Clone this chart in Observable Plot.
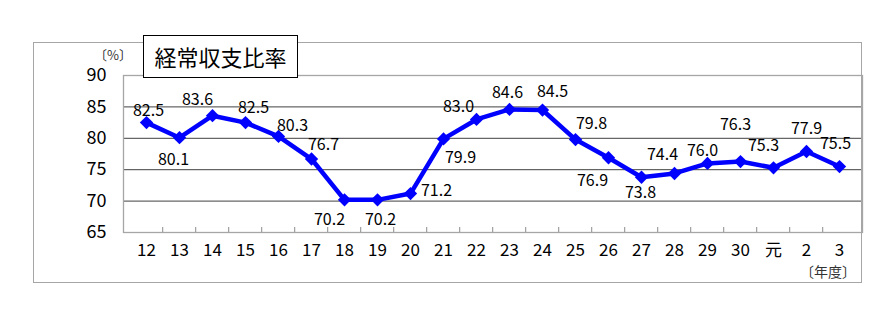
<!DOCTYPE html>
<html><head><meta charset="utf-8">
<script src="https://cdn.jsdelivr.net/npm/d3@7"></script>
<script src="https://cdn.jsdelivr.net/npm/@observablehq/plot@0.6"></script>
<style>
body{margin:0;background:#fff;font-family:"Noto Sans CJK JP","Noto Sans",sans-serif;}
#wrap{position:relative;width:883px;height:318px;overflow:hidden;}
#chart{position:absolute;left:0;top:0;}
#frame{position:absolute;left:33px;top:42px;width:829px;height:241px;box-sizing:border-box;border:1.5px solid #a6a6a6;pointer-events:none;}
#title{position:absolute;left:143px;top:35px;width:155px;height:43px;box-sizing:border-box;border:1.5px solid #000;background:#fff;font-size:22px;line-height:40px;text-align:center;color:#000;}
#unit{position:absolute;left:94px;top:47px;font-size:13px;line-height:15px;color:#333;}
#xunit{position:absolute;left:800px;top:264px;font-size:14px;line-height:14px;color:#333;}
</style></head><body>
<div id="wrap">
<div id="chart"></div>
<div id="frame"></div>
<div id="title">経常収支比率</div>
<div id="unit">〔%〕</div>
<div id="xunit">〔年度〕</div>
</div>
<script>
const years = ["12","13","14","15","16","17","18","19","20","21","22","23","24","25","26","27","28","29","30","元","2","3"];
const ratio = [82.5,80.1,83.6,82.5,80.3,76.7,70.2,70.2,71.2,79.9,83.0,84.6,84.5,79.8,76.9,73.8,74.4,76.0,76.3,75.3,77.9,75.5];
const yTicks = [65,70,75,80,85,90];
const gridValues = [70,75,80,85];
// label placement offsets (pixels) relative to each point
const labelDx = [2,-6,-15,8,14,12,-15,3,26,17,-18,-2,10,16,-16,-1,-12,-5,-5,-10,0,-4];
const labelDy = [-12,22,-16,-15,-11,-14,20,20,-3,19,-13,-17,-18,-16,23,16,-19,-13,-37,-22,-23,-23];

const W = 883, H = 318, mL = 123, mR = 21, mT = 75, mB = 86;
const step = (W - mL - mR) / years.length;
const innerH = H - mT - mB;
const data = years.map((y, i) => ({year: y, v: ratio[i], dx: labelDx[i], dy: labelDy[i]}));

const labelMarks = data.map(d => Plot.text([d], {
  x: "year", y: "v", text: d => d.v.toFixed(1),
  dx: d.dx, dy: d.dy, fontSize: 16, fill: "#000", lineAnchor: "middle", textAnchor: "middle"
}));

const chart = Plot.plot({
  width: W, height: H,
  marginLeft: mL, marginRight: mR, marginTop: mT, marginBottom: mB,
  style: {background: "transparent", fontFamily: '"Noto Sans CJK JP","Noto Sans",sans-serif', fontSize: "17px", color: "#000"},
  x: {type: "point", domain: years, padding: 0.5, label: null},
  y: {domain: [65, 90], label: null},
  marks: [
    Plot.ruleY(gridValues, {stroke: "#404040", strokeWidth: 1}),
    Plot.frame({stroke: "#a6a6a6", strokeWidth: 1.3}),
    Plot.ruleX(years.slice(1), {x: d => d, dx: -step / 2, insetTop: innerH - 5, stroke: "#8c8c8c", strokeWidth: 1}),
    Plot.axisY(yTicks, {tickSize: 0, tickPadding: 17, fontSize: 18, fill: "#000", label: null}),
    Plot.axisX({tickSize: 0, tickPadding: 11, fontSize: 17, fill: "#000", label: null}),
    Plot.line(data, {x: "year", y: "v", stroke: "#0000ff", strokeWidth: 4.5, strokeLinejoin: "round"}),
    Plot.dot(data, {x: "year", y: "v", symbol: "diamond2", r: 6, fill: "#0000ff", stroke: "none"}),
    ...labelMarks
  ]
});
document.getElementById("chart").appendChild(chart);
</script>
</body></html>
